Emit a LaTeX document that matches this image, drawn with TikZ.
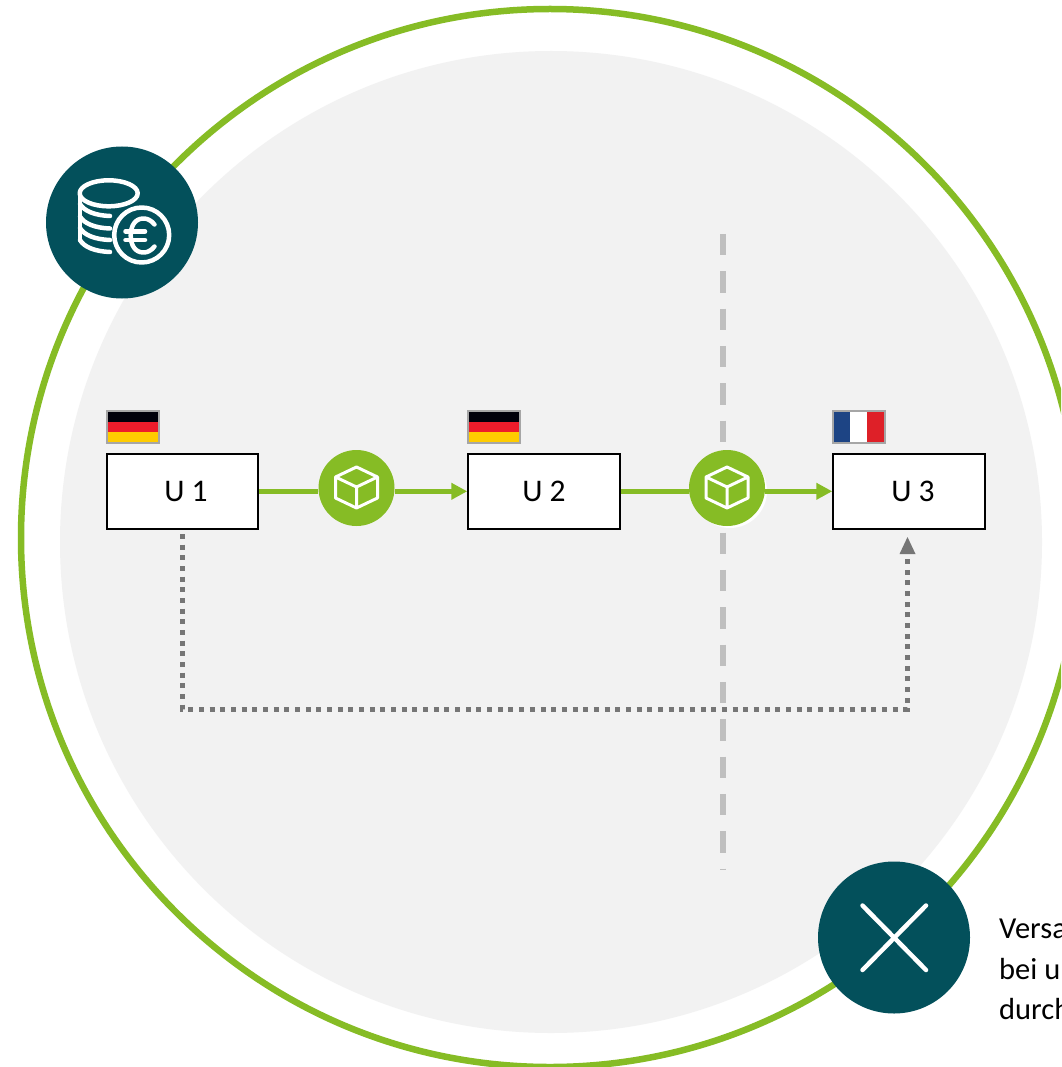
\documentclass[tikz,border=0pt]{standalone}
\usepackage{fontspec}
\setmainfont{Carlito}
\usetikzlibrary{arrows.meta}
\definecolor{ringgreen}{HTML}{86BC25}
\definecolor{tealdark}{HTML}{03505B}
\definecolor{panelgray}{HTML}{F2F2F2}
\definecolor{dashgray}{HTML}{BFBFBF}
\definecolor{dotgray}{HTML}{767676}
\definecolor{flagblack}{HTML}{00000A}
\definecolor{flagred}{HTML}{EE1C2B}
\definecolor{flaggold}{HTML}{FFCC00}
\definecolor{frblue}{HTML}{1D4484}
\definecolor{frred}{HTML}{DE2028}
\tikzset{
  x=1pt,y=-1pt,
  firm/.style={draw=black,fill=white,line width=2pt,minimum width=151.5pt,minimum height=75.5pt,inner sep=0pt,font=\fontsize{31.5}{36}\selectfont},
  badge/.style={circle,fill=tealdark,minimum size=152pt,inner sep=0pt},
  parcel/.style={circle,fill=ringgreen,minimum size=76pt,inner sep=0pt},
  flow/.style={draw=ringgreen,line width=5pt},
  flowtip/.style={flow,-{Triangle[length=16pt,width=16pt]}},
  border/.style={draw=dashgray,dash pattern=on 21.4pt off 15.93pt,line width=6pt},
  service/.style={draw=dotgray,line width=5pt,dash pattern=on 5pt off 5.67pt},
  icon/.style={draw=white,line width=4.5pt,line cap=round,line join=round},
  cube/.style={draw=white,line width=3pt,line join=round},
  flag/.style={draw=black!35,line width=2pt},
  note/.style={anchor=north west,align=left,inner sep=0pt,font=\fontsize{30.5}{40.5}\selectfont}
}
\begin{document}
\begin{tikzpicture}
\clip (0,0) rectangle (1061,1067);
\fill[white] (0,0) rectangle (1061,1067);
% circles
\draw[ringgreen,line width=6.5pt] (550,538) circle[radius=529];
\fill[panelgray] (551,542) circle[radius=491];
% border
\draw[border] (723,234) -- (723,869.5);
% boxes
\node[firm] (u1) at (182.5,491.3) {\hspace*{7pt}\raisebox{-1pt}{U 1}};
\node[firm] (u2) at (544,491.3) {\raisebox{-1pt}{U 2}};
\node[firm] (u3) at (909,491.3) {\hspace*{8pt}\raisebox{-1pt}{U 3}};
% parcels
\node[parcel] (p1) at (356.5,488) {};
\fill[white] (730,491) circle[radius=37];
\node[parcel] (p2) at (727,488) {};
\foreach \n in {p1,p2}{
  \draw[cube,shift={(\n)}] (0,-21) -- (21,-11) -- (21,10) -- (0,20) -- (-21,10) -- (-21,-11) -- cycle
    (-21,-11) -- (0,-1) -- (21,-11) (0,-1) -- (0,20);
}
% flows
\draw[flow] (u1.east) -- (u1.east -| p1.west);
\draw[flowtip] (u2.west -| p1.east) -- (u2.west);
\draw[flow] (u2.east) -- (u2.east -| p2.west);
\draw[flowtip] (u3.west -| p2.east) -- (u3.west);
% flags
\fill[flagblack] (107,411) rectangle (159,422);
\fill[flagred] (107,422) rectangle (159,432);
\fill[flaggold] (107,432) rectangle (159,443);
\draw[flag] (107,411) rectangle (159,443);
\fill[flagblack] (468,411) rectangle (520,422);
\fill[flagred] (468,422) rectangle (520,432);
\fill[flaggold] (468,432) rectangle (520,443);
\draw[flag] (468,411) rectangle (520,443);
\fill[frblue] (833,411) rectangle (850,443);
\fill[white] (850,411) rectangle (867,443);
\fill[frred] (867,411) rectangle (885,443);
\draw[flag] (833,411) rectangle (885,443);
% dotted connection
\coordinate (d1) at (182,534);
\coordinate (d2) at (182,709);
\coordinate (d3) at (907.5,709);
\coordinate (d4) at (907.5,537);
\draw[service] (d1) -- (d2) -- (d3) -- (907.5,552);
\fill[dotgray] (d4) -- (915.5,554) -- (899.5,554) -- cycle;
% badges
\node[badge] (coins) at (122,222.5) {};
\node[badge] (cross) at (894,937.5) {};
% coin icon
\draw[icon] (108.7,193.3) ellipse[x radius=29,y radius=13];
\draw[icon] (80,193.3) -- (80,240);
\foreach \Y in {204,216.5,228,240}{
  \draw[icon] (80,\Y) .. controls (84,\Y+7) and (95,\Y+11.5) .. (110,\Y+12);
}
\draw[icon] (141.7,235) circle[radius=27.5];
\draw[icon] (154.5,224.5) .. controls (151,220) and (147,218.5) .. (143.5,218.5) .. controls (135,218.5) and (130.7,226) .. (130.7,235.5) .. controls (130.7,245) and (135,252.5) .. (143.5,252.5) .. controls (147,252.5) and (151,251) .. (154.5,246.5);
\draw[icon] (125.5,231.5) -- (145,231.5) (125.5,240) -- (145,240);
% cross icon
\draw[icon] (862.5,905.5) -- (926,970) (926,905.5) -- (862.5,970);
% note
\node[note] (txt) at (999,919) {Versa\\bei u\\durch};
\end{tikzpicture}
\end{document}
